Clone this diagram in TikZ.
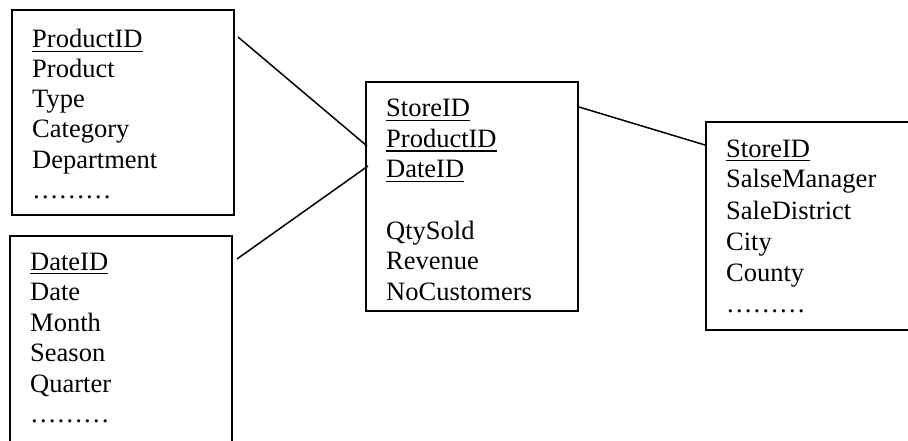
\documentclass[tikz,border=0pt]{standalone}
\usepackage{fontspec}
\setmainfont{Liberation Serif}
\newcommand\keyul[1]{\setbox0\hbox{#1}\rlap{\rule[-4.3pt]{\wd0}{1.5pt}}\box0}
\tikzset{
  tbl/.style={draw, line width=2pt, minimum width=#1, inner sep=0pt},
  fld/.style={anchor=base west, inner sep=0pt, font=\fontsize{26.5pt}{30pt}\selectfont},
  link/.style={line width=1.5pt}
}
\begin{document}
\begin{tikzpicture}[x=1pt,y=1pt]
\useasboundingbox (0,0) rectangle (908,440);
\clip (0,0) rectangle (908,440);
% boxes
\node[tbl=222pt, minimum height=205pt] (prod) at (123,327.5) {};
\node[tbl=222pt, minimum height=234pt] (date) at (121,87) {};
\node[tbl=212pt, minimum height=229pt] (fact) at (472,243.5) {};
\node[tbl=214pt, minimum height=208pt] (store) at (813,214) {};
% product fields
\node[fld] (p1) at (32,392) {\keyul{ProductID}};
\node[fld] (p2) at (32,362) {Product};
\node[fld] (p3) at (32,332) {Type};
\node[fld] (p4) at (32,302) {Category};
\node[fld] (p5) at (32,272) {Department};
\node[fld] (p6) at (32,242) {………};
% date fields
\node[fld] (d1) at (30,170) {\keyul{DateID}};
\node[fld] (d2) at (30,139.5) {Date};
\node[fld] (d3) at (30,109) {Month};
\node[fld] (d4) at (30,78.5) {Season};
\node[fld] (d5) at (30,48) {Quarter};
\node[fld] (d6) at (30,17.5) {………};
% fact fields
\node[fld] (f1) at (386,323) {\keyul{StoreID}};
\node[fld] (f2) at (386,292.5) {\keyul{ProductID}};
\node[fld] (f3) at (386,262) {\keyul{DateID}};
\node[fld] (f4) at (386,201) {QtySold};
\node[fld] (f5) at (386,170.5) {Revenue};
\node[fld] (f6) at (386,140) {NoCustomers};
% store fields
\node[fld] (s1) at (726,283) {\keyul{StoreID}};
\node[fld] (s2) at (726,252) {SalseManager};
\node[fld] (s3) at (726,221) {SaleDistrict};
\node[fld] (s4) at (726,190) {City};
\node[fld] (s5) at (726,159) {County};
\node[fld] (s6) at (726,128) {………};
% connectors
\draw[link] ([xshift=3pt,yshift=-28pt]prod.north east) -- ([xshift=2pt,yshift=-65pt]fact.north west);
\draw[link] ([xshift=4pt,yshift=-24pt]date.north east) -- ([xshift=3pt,yshift=-85pt]fact.north west);
\draw[link] ([yshift=-26pt]fact.north east) -- ([yshift=-24pt]store.north west);
\end{tikzpicture}
\end{document}
